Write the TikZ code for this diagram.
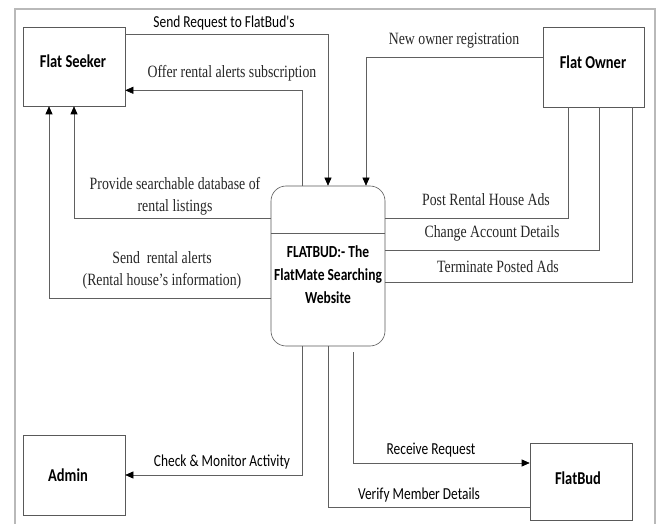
\documentclass[tikz,border=0pt]{standalone}
\usepackage{fontspec}
\usepackage{graphicx}
\setmainfont{Liberation Serif}
\newfontfamily\calibrifont{Carlito}
\usetikzlibrary{arrows.meta}
\newcommand{\ystretch}[1]{\scalebox{1}[1.25]{\begin{tabular}{@{}c@{}}#1\end{tabular}}}
\tikzset{
  ent/.style={draw=gray!70!black, line width=0.6pt, fill=white, inner sep=0pt},
  boxlabel/.style={font=\calibrifont\bfseries\fontsize{14.5}{17}\selectfont, text=black, inner sep=0pt},
  flow/.style={draw=gray!75!black, line width=0.6pt},
  arr/.style={flow, -{Triangle[length=8pt,width=7pt,color=black]}},
  serlab/.style={font=\fontsize{13.8}{18}\selectfont, text=black!85, inner sep=0pt},
  sanslab/.style={font=\calibrifont\fontsize{13.4}{16}\selectfont, text=black, inner sep=0pt},
}
\begin{document}
\begin{tikzpicture}[x=1pt,y=-1pt]
\useasboundingbox (0,0) rectangle (657,524);
% outer frame
\draw[gray!55, line width=1.6pt] (15,526) -- (15,9) -- (655,9) -- (655,526);

% entities
\node[ent, minimum width=102pt, minimum height=79pt] (seeker) at (74,66.5) {};
\node[boxlabel] (seekerT) at (73,63) {\ystretch{Flat Seeker}};
\node[ent, minimum width=101pt, minimum height=80pt] (owner) at (593.5,67) {};
\node[boxlabel] (ownerT) at (593,64) {\ystretch{Flat Owner}};
\node[ent, minimum width=102pt, minimum height=80pt] (admin) at (74,475) {};
\node[boxlabel] (adminT) at (68,477) {\ystretch{Admin}};
\node[ent, minimum width=102pt, minimum height=77pt] (flatbud) at (581,481.5) {};
\node[boxlabel] (flatbudT) at (578,480) {\ystretch{FlatBud}};

% process
\node[ent, rounded corners=15pt, minimum width=114pt, minimum height=160pt] (proc) at (328,266) {};
\draw[flow] ([yshift=-48pt]proc.north west) -- ([yshift=-48pt]proc.north east);
\node[font=\calibrifont\bfseries\fontsize{13.5}{18.4}\selectfont, text=black, inner sep=0pt] (procT) at (328,276)
  {\ystretch{FLATBUD:- The\\FlatMate Searching\\Website}};

% connectors
\draw[arr] ([yshift=-8pt]seeker.north east) -| (proc.north);
\draw[arr] ([xshift=-26pt]proc.north) |- ([yshift=16pt]seeker.south east);
\draw[arr] ([yshift=-31pt]owner.north west) -| ([xshift=38pt]proc.north);
\draw[arr] ([yshift=48pt]proc.west) -| (seeker.south);
\draw[arr] ([yshift=-32pt]proc.west) -| ([xshift=-25pt]seeker.south);
\draw[flow] ([xshift=-25.5pt]owner.south) |- ([yshift=48pt]proc.east);
\draw[flow] ([xshift=5.5pt]owner.south) |- ([yshift=16pt]proc.east);
\draw[flow] ([xshift=38.5pt]owner.south) |- ([yshift=-16pt]proc.east);
\draw[arr] ([xshift=-26pt]proc.south) |- (admin.east);
\draw[arr] ([xshift=25pt,yshift=-6pt]proc.south) |- ([yshift=18.5pt]flatbud.west);
\draw[flow] (proc.south) |- ([yshift=-25.5pt]flatbud.west);

% labels
\node[sanslab] (l1) at (224,24) {\ystretch{Send Request to FlatBud's}};
\node[serlab] (l2) at (232,73) {\ystretch{Offer rental alerts subscription}};
\node[serlab] (l3) at (454,40) {\ystretch{New owner registration}};
\node[serlab] (l4) at (175,196) {\ystretch{Provide searchable database of\\rental listings}};
\node[serlab] (l5) at (162,270) {\ystretch{Send\ \ rental alerts\\(Rental house's information)}};
\node[serlab] (l6) at (486,201) {\ystretch{Post Rental House Ads}};
\node[serlab] (l7) at (492,233) {\ystretch{Change Account Details}};
\node[serlab] (l8) at (498,268) {\ystretch{Terminate Posted Ads}};
\node[sanslab] (l9) at (222,463) {\ystretch{Check \& Monitor Activity}};
\node[sanslab] (l10) at (431,450) {\ystretch{Receive Request}};
\node[sanslab] (l11) at (419,495) {\ystretch{Verify Member Details}};
\end{tikzpicture}
\end{document}
